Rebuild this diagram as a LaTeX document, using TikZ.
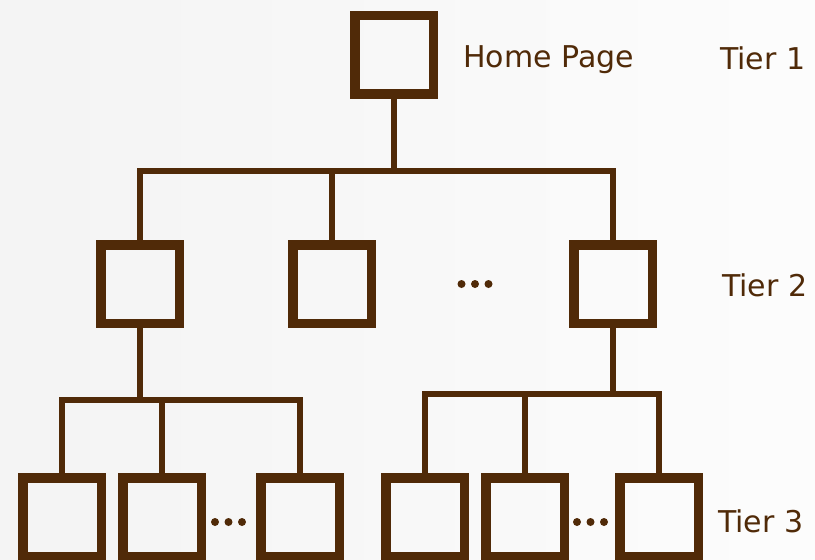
\documentclass[tikz,border=0pt]{standalone}
\usepackage{fontspec}
\setmainfont{DejaVu Sans}
\usetikzlibrary{positioning}
\definecolor{treebrown}{RGB}{80,42,8}

\begin{document}
\begin{tikzpicture}[
  x=1pt, y=-1pt,
  page/.style={rectangle, draw=treebrown, line width=9.5pt, minimum size=78.5pt, inner sep=0pt},
  link/.style={draw=treebrown, line width=5.5pt},
  tier/.style={text=treebrown, font=\fontsize{30}{36}\selectfont, inner sep=0pt, anchor=west},
  more/.style={minimum width=40pt, minimum height=8pt, inner sep=0pt}
]
\useasboundingbox (0,0) rectangle (815,560);
\clip (0,0) rectangle (815,560);
\shade[left color=gray!9, right color=gray!2] (0,0) rectangle (815,560);

% Pages
\node[page] (home) at (394,54.5) {};
\node[page] (t2a) at (140,284) {};
\node[page] (t2b) at (332,284) {};
\node[page] (t2c) at (613,284) {};
\node[page] (t3a) at (62,517) {};
\node[page] (t3b) at (162,517) {};
\node[page] (t3c) at (300,517) {};
\node[page] (t3d) at (425,517) {};
\node[page] (t3e) at (525,517) {};
\node[page] (t3f) at (659,517) {};

% Dots
\node[more] (dotstwo) at (475,284) {};
\node[more] (dotsthreea) at (228.5,522) {};
\node[more] (dotsthreeb) at (590.5,522) {};
\foreach \dots in {dotstwo, dotsthreea, dotsthreeb}
  \foreach \dx in {-13.5,0,13.5}
    \fill[treebrown] ([xshift=\dx pt]\dots.center) circle (4);

% Labels
\node[tier, right=25pt of home, yshift=-5pt] (homelabel) {Home Page};
\node[tier] (tierone) at (720,58) {Tier 1};
\node[tier] (tiertwo) at (722,285) {Tier 2};
\node[tier] (tierthree) at (718,521) {Tier 3};

% Links
\coordinate (barone) at (394,171);
\coordinate (bartwo) at (140,400);
\coordinate (barthree) at (613,394);
\draw[link] (home) -- (barone);
\draw[link] (t2a.north) |- (barone) -| (t2c.north);
\draw[link] (t2b.north) -- (t2b.north |- barone);
\draw[link] (t2a) -- (bartwo);
\draw[link] (t3a.north) |- (bartwo) -| (t3c.north);
\draw[link] (t3b.north) -- (t3b.north |- bartwo);
\draw[link] (t2c) -- (barthree);
\draw[link] (t3d.north) |- (barthree) -| (t3f.north);
\draw[link] (t3e.north) -- (t3e.north |- barthree);

\end{tikzpicture}
\end{document}
